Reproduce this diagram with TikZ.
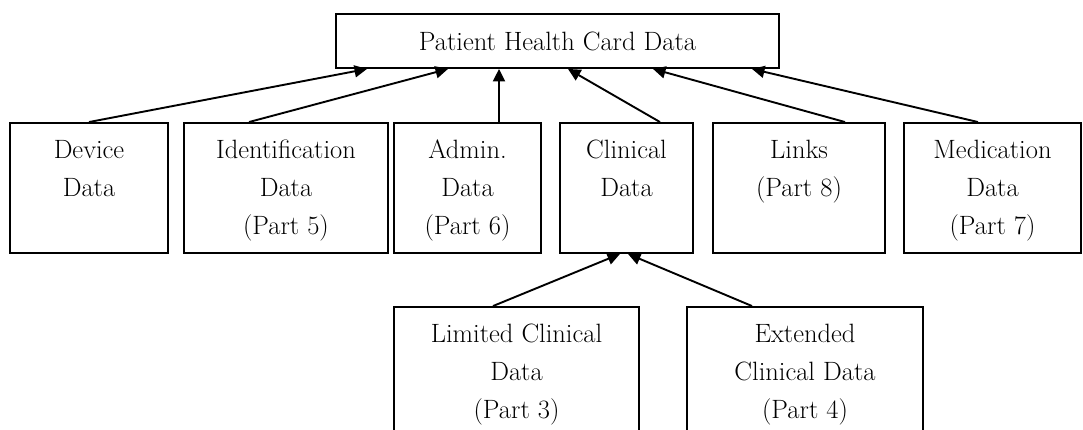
\documentclass[tikz,border=0pt]{standalone}
\usetikzlibrary{arrows.meta}
\begin{document}
\begin{tikzpicture}[x=1pt,y=1pt,
  card/.style={draw=black, line width=1.9pt, rectangle, inner sep=0pt},
  lbl/.style={anchor=north, align=center, inner sep=0pt},
  feed/.style={line width=1.9pt, -{Triangle[length=12.5pt,width=12pt]}},
  font=\fontsize{26.5}{38}\selectfont
]
\clip (0,0) rectangle (1083,430);
\fill[white] (0,0) rectangle (1083,430);

% root record
\node[card, minimum width=443pt, minimum height=54pt] (phc) at (557.5,389) {Patient Health Card Data};

% first level of the card structure
\node[card, minimum width=158pt, minimum height=130pt] (dev) at (89,242) {};
\node[card, minimum width=204pt, minimum height=130pt] (idn) at (286,242) {};
\node[card, minimum width=147pt, minimum height=130pt] (adm) at (467.5,242) {};
\node[card, minimum width=133pt, minimum height=130pt] (cli) at (626.5,242) {};
\node[card, minimum width=172pt, minimum height=130pt] (lnk) at (799,242) {};
\node[card, minimum width=177pt, minimum height=130pt] (med) at (992.5,242) {};

% clinical sub-records
\node[card, minimum width=245pt, minimum height=133pt] (lim) at (516.5,56.5) {};
\node[card, minimum width=236pt, minimum height=133pt] (ext) at (805,56.5) {};

% box captions, top aligned
\node[lbl] (dev-t) at ([yshift=-9.4pt]dev.north) {\strut Device\\Data};
\node[lbl] (idn-t) at ([yshift=-9.4pt]idn.north) {\strut Identification\\Data\\(Part 5)};
\node[lbl] (adm-t) at ([yshift=-9.4pt]adm.north) {\strut Admin.\\Data\\(Part 6)};
\node[lbl] (cli-t) at ([yshift=-9.4pt]cli.north) {\strut Clinical\\Data};
\node[lbl] (lnk-t) at ([yshift=-9.4pt]lnk.north) {\strut Links\\(Part 8)};
\node[lbl] (med-t) at ([yshift=-9.4pt]med.north) {\strut Medication\\Data\\(Part 7)};
\node[lbl] (lim-t) at ([yshift=-9.4pt]lim.north) {\strut Limited Clinical\\Data\\(Part 3)};
\node[lbl] (ext-t) at ([yshift=-9.4pt]ext.north) {\strut Extended\\Clinical Data\\(Part 4)};

% composition arrows
\draw[feed] (dev.north) -- ([xshift=-190.5pt]phc.south);
\draw[feed] ([xshift=-37pt]idn.north) -- ([xshift=-109.5pt]phc.south);
\draw[feed] ([xshift=31.5pt]adm.north) -- ([xshift=-58.5pt]phc.south);
\draw[feed] ([xshift=33.5pt]cli.north) -- ([xshift=10.5pt]phc.south);
\draw[feed] ([xshift=46pt]lnk.north) -- ([xshift=95.5pt]phc.south);
\draw[feed] ([xshift=-14.5pt]med.north) -- ([xshift=194.5pt]phc.south);
\draw[feed] ([xshift=-23.5pt]lim.north) -- ([xshift=-6.5pt]cli.south);
\draw[feed] ([xshift=-53pt]ext.north) -- ([xshift=1.5pt]cli.south);
\end{tikzpicture}
\end{document}
